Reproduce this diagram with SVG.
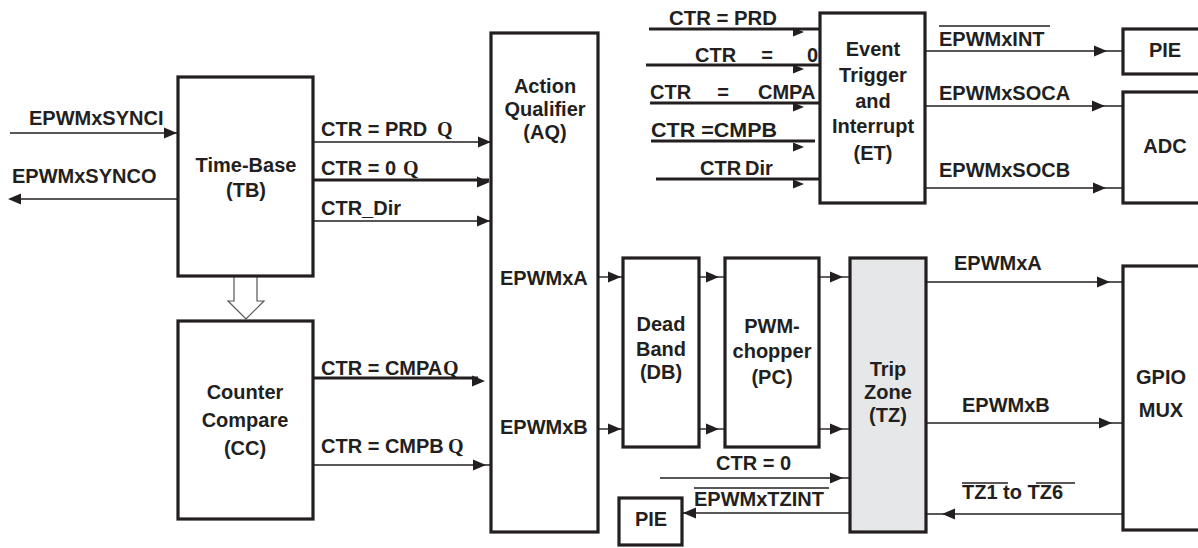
<svg xmlns="http://www.w3.org/2000/svg" xmlns:xlink="http://www.w3.org/1999/xlink" width="1198" height="548" viewBox="0 0 1198 548">
<style>
text{font-family:"Liberation Sans",Arial,sans-serif;font-weight:bold;font-size:20px;fill:#231f20}
.c{text-anchor:middle}
.q{font-family:"Liberation Serif","Times New Roman",serif;font-size:20px}
.box{fill:#fff;stroke:#231f20;stroke-width:3.2}
.tz{fill:#e6e7e8}
.w{stroke:#231f20;stroke-width:1.4;fill:none}
.k{stroke:#231f20;stroke-width:2.8;fill:none}
.ah{fill:#231f20}
.ov{stroke:#231f20;stroke-width:1.3}
</style>
<defs>
<path id="ar" d="M0,0 L-13,-5.5 L-13,5.5 Z"/>
<path id="al" d="M0,0 L13,-5.5 L13,5.5 Z"/>
<path id="as" d="M0,0 L-11,-4.5 L-11,4.5 Z"/>
</defs>

<g id="connectors">
<!-- sync -->
<line class="w" x1="10" y1="133" x2="178" y2="133"/><use href="#ar" class="ah" x="177" y="133"/>
<line class="w" x1="178" y1="199" x2="12" y2="199"/><use href="#al" class="ah" x="8" y="199"/>
<!-- TB to AQ -->
<line class="w" x1="313" y1="142" x2="491" y2="142"/><use href="#ar" class="ah" x="491" y="142"/>
<line class="k" x1="313" y1="180" x2="489" y2="180"/><use href="#ar" class="ah" x="490" y="182"/>
<line class="w" x1="313" y1="221" x2="491" y2="221"/><use href="#ar" class="ah" x="490" y="221"/>
<!-- TB to CC hollow -->
<polygon points="234,276 234,301 228,301 246,319 264,301 257,301 257,276" fill="#fff" stroke="#555" stroke-width="1.2"/>
<!-- CC to AQ -->
<line class="k" x1="313" y1="378" x2="478" y2="378"/><use href="#ar" class="ah" x="485" y="381"/>
<line class="w" x1="313" y1="465" x2="491" y2="465"/><use href="#ar" class="ah" x="486" y="465"/>
<!-- AQ -> DB -> PC -> TZ -->
<line class="w" x1="598" y1="277" x2="623" y2="277"/><use href="#ar" class="ah" x="621" y="277"/>
<line class="w" x1="598" y1="429" x2="623" y2="429"/><use href="#ar" class="ah" x="621" y="429"/>
<line class="w" x1="699" y1="277" x2="725" y2="277"/><use href="#ar" class="ah" x="719" y="277"/>
<line class="w" x1="699" y1="429" x2="725" y2="429"/><use href="#ar" class="ah" x="719" y="429"/>
<line class="w" x1="819" y1="277" x2="850" y2="277"/><use href="#ar" class="ah" x="843" y="277"/>
<line class="w" x1="819" y1="429" x2="850" y2="429"/><use href="#ar" class="ah" x="843" y="429"/>
<line class="w" x1="660" y1="478" x2="850" y2="478"/><use href="#ar" class="ah" x="843" y="478"/>
<line class="w" x1="850" y1="513" x2="682" y2="513"/><use href="#al" class="ah" x="683" y="513"/>
<!-- TZ <-> GPIO -->
<line class="w" x1="926" y1="282" x2="1123" y2="282"/><use href="#ar" class="ah" x="1110" y="282"/>
<line class="w" x1="926" y1="423" x2="1123" y2="423"/><use href="#ar" class="ah" x="1112" y="423"/>
<line class="w" x1="1123" y1="514" x2="926" y2="514"/><use href="#al" class="ah" x="942" y="514"/>
<!-- ET outputs -->
<line class="w" x1="925" y1="51" x2="1123" y2="51"/><use href="#ar" class="ah" x="1107" y="51"/>
<line class="w" x1="925" y1="106" x2="1123" y2="106"/><use href="#ar" class="ah" x="1105" y="106"/>
<line class="w" x1="925" y1="188" x2="1123" y2="188"/><use href="#ar" class="ah" x="1106" y="188"/>
<!-- ET inputs -->
<line class="k" x1="649" y1="29" x2="820" y2="29"/><use href="#as" class="ah" x="804" y="32"/>
<line class="k" x1="646" y1="65" x2="820" y2="65"/><use href="#as" class="ah" x="804" y="69"/>
<line class="k" x1="650" y1="103" x2="820" y2="103"/><use href="#as" class="ah" x="804" y="107"/>
<line class="k" x1="651" y1="141" x2="815" y2="141"/><use href="#as" class="ah" x="804" y="147"/>
<line class="k" x1="656" y1="179" x2="820" y2="179"/><use href="#as" class="ah" x="804" y="184"/>
</g>

<g id="tb">
<rect class="box" x="178" y="77" width="135" height="199"/>
<text class="c" x="246" y="172">Time-Base</text>
<text class="c" x="246" y="197">(TB)</text>
</g>
<g id="cc">
<rect class="box" x="178" y="321" width="135" height="198"/>
<text class="c" x="245" y="399">Counter</text>
<text class="c" x="245" y="427">Compare</text>
<text class="c" x="245" y="455">(CC)</text>
</g>
<g id="aq">
<rect class="box" x="491" y="33" width="107" height="499"/>
<text class="c" x="545" y="93">Action</text>
<text class="c" x="545" y="116">Qualifier</text>
<text class="c" x="545" y="139">(AQ)</text>
<text x="500" y="285">EPWMxA</text>
<text x="500" y="434">EPWMxB</text>
</g>
<g id="db">
<rect class="box" x="623" y="258" width="76" height="189"/>
<text class="c" x="661" y="331">Dead</text>
<text class="c" x="661" y="356">Band</text>
<text class="c" x="661" y="379">(DB)</text>
</g>
<g id="pc">
<rect class="box" x="725" y="258" width="94" height="189"/>
<text class="c" x="772" y="333">PWM-</text>
<text class="c" x="772" y="358">chopper</text>
<text class="c" x="772" y="384">(PC)</text>
</g>
<g id="tz">
<rect class="box tz" x="850" y="258" width="76" height="274"/>
<text class="c" x="888" y="376">Trip</text>
<text class="c" x="888" y="399">Zone</text>
<text class="c" x="888" y="422">(TZ)</text>
</g>
<g id="et">
<rect class="box" x="820" y="13" width="105" height="190"/>
<text class="c" x="873" y="56">Event</text>
<text class="c" x="873" y="82">Trigger</text>
<text class="c" x="873" y="108">and</text>
<text class="c" x="873" y="133">Interrupt</text>
<text class="c" x="873" y="160">(ET)</text>
</g>
<g id="pie-top">
<rect class="box" x="1123" y="29" width="90" height="45"/>
<text class="c" x="1165" y="57">PIE</text>
</g>
<g id="adc">
<rect class="box" x="1123" y="92" width="90" height="111"/>
<text class="c" x="1165" y="153">ADC</text>
</g>
<g id="gpio">
<rect class="box" x="1123" y="266" width="90" height="264"/>
<text class="c" x="1161" y="384">GPIO</text>
<text class="c" x="1161" y="417">MUX</text>
</g>
<g id="pie-bottom">
<rect class="box" x="619" y="498" width="63" height="47"/>
<text class="c" x="651" y="526">PIE</text>
</g>

<g id="labels">
<text x="29" y="125">EPWMxSYNCI</text>
<text x="12" y="183">EPWMxSYNCO</text>
<text x="321" y="136">CTR = PRD</text><text class="q" x="437" y="136">Q</text>
<text x="321" y="175">CTR = 0</text><text class="q" x="403" y="175">Q</text>
<text x="321" y="215">CTR_Dir</text>
<text x="321" y="375">CTR = CMPA</text><text class="q" x="443" y="375">Q</text>
<text x="321" y="453">CTR = CMPB</text><text class="q" x="448" y="453">Q</text>

<text x="669" y="25" textLength="108" lengthAdjust="spacingAndGlyphs">CTR = PRD</text>
<text x="695" y="62">CTR</text><text class="c" x="767" y="62">=</text><text x="807" y="62">0</text>
<text x="650" y="99">CTR</text><text class="c" x="723" y="99">=</text><text x="758" y="99">CMPA</text>
<text x="651" y="137" textLength="126" lengthAdjust="spacingAndGlyphs">CTR =CMPB</text>
<text x="700" y="175">CTR</text><text x="745" y="175">Dir</text>

<text x="939" y="46">EPWMxINT</text><line class="ov" x1="939" y1="26" x2="1050" y2="26"/>
<text x="939" y="100">EPWMxSOCA</text>
<text x="939" y="177">EPWMxSOCB</text>
<text x="954" y="270">EPWMxA</text>
<text x="962" y="412">EPWMxB</text>
<text x="962" y="499">TZ1 to TZ6</text>
<line class="ov" x1="962" y1="483" x2="1008" y2="483"/><line class="ov" x1="1036" y1="483" x2="1075" y2="483"/>
<text x="716" y="470">CTR = 0</text>
<text x="694" y="506">EPWMxTZINT</text><line class="ov" x1="694" y1="488" x2="829" y2="488"/>
</g>
</svg>
